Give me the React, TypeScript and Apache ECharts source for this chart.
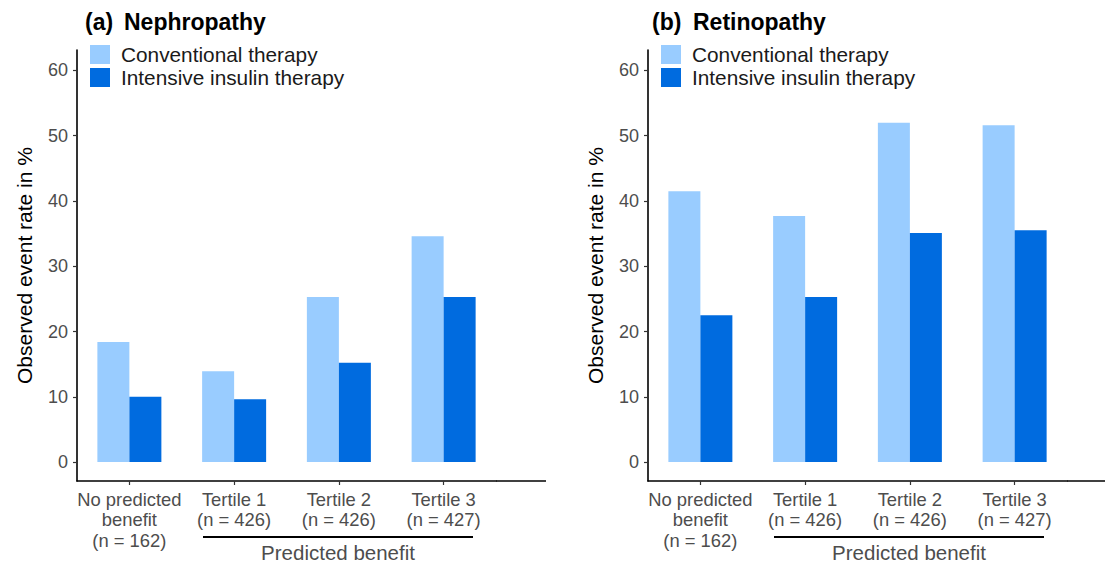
import React, { useEffect, useRef } from "react";
import * as echarts from "echarts";

const categories = [
  "No predicted\nbenefit\n(n = 162)",
  "Tertile 1\n(n = 426)",
  "Tertile 2\n(n = 426)",
  "Tertile 3\n(n = 427)",
];
const seriesNames = ["Conventional therapy", "Intensive insulin therapy"];
const nephConventional = [18.4, 13.9, 25.3, 34.6];
const nephIntensive = [10.0, 9.6, 15.2, 25.3];
const retConventional = [41.5, 37.7, 52.0, 51.6];
const retIntensive = [22.5, 25.3, 35.1, 35.5];
const yTicks = [0, 10, 20, 30, 40, 50, 60];
const panelTags = ["(a)", "(b)"];
const panelTitles = ["Nephropathy", "Retinopathy"];
const yAxisTitle = "Observed event rate in %";
const groupLabel = "Predicted benefit";

const LIGHT = "#99CCFF";
const DARK = "#006BDF";
const FONT = "Liberation Sans, Arial, sans-serif";

export default function App() {
  const ref = useRef<HTMLDivElement>(null);
  useEffect(() => {
    document.body.style.margin = "0";
    const chart = echarts.init(ref.current!, undefined, { renderer: "svg" });
    const offsets = [0, 571];
    const gridLeft = [77, 648];
    const gridW = 419;

    const grids = gridLeft.map((l) => ({ left: l, top: 50, width: gridW, height: 431 }));
    const xAxes = gridLeft.map((_, i) => ({
      type: "category",
      gridIndex: i,
      data: categories,
      boundaryGap: true,
      axisLine: { show: true, onZero: false, lineStyle: { color: "#000", width: 1.6 } },
      axisTick: { show: true, alignWithLabel: true, length: 4, lineStyle: { color: "#333", width: 1.2 } },
      axisLabel: {
        interval: 0,
        fontSize: 18.4,
        lineHeight: 20.5,
        color: "#4D4D4D",
        fontFamily: FONT,
        margin: 8,
      },
    }));
    const yAxes = gridLeft.map((_, i) => ({
      type: "value",
      gridIndex: i,
      min: -2.91,
      max: 63.14,
      name: yAxisTitle,
      nameLocation: "middle",
      nameRotate: 90,
      nameGap: 42,
      nameTextStyle: { fontSize: 21, color: "#000", fontFamily: FONT },
      splitLine: { show: false },
      axisLine: { show: true, onZero: false, lineStyle: { color: "#000", width: 1.6 } },
      axisTick: { show: true, customValues: yTicks, length: 4, lineStyle: { color: "#333", width: 1.2 } },
      axisLabel: { customValues: yTicks, fontSize: 18, color: "#4D4D4D", fontFamily: FONT, margin: 9 },
    }));

    const mk = (name: string, data: number[], idx: number, color: string) => ({
      type: "bar",
      name,
      xAxisIndex: idx,
      yAxisIndex: idx,
      data,
      barWidth: 32,
      barGap: "0%",
      itemStyle: { color },
    });
    const series = [
      mk(seriesNames[0], nephConventional, 0, LIGHT),
      mk(seriesNames[1], nephIntensive, 0, DARK),
      mk(seriesNames[0], retConventional, 1, LIGHT),
      mk(seriesNames[1], retIntensive, 1, DARK),
    ];

    const legends = offsets.map((o) => ({
      left: 90 + o,
      top: 44,
      orient: "vertical",
      icon: "rect",
      itemWidth: 20,
      itemHeight: 19,
      itemGap: 2,
      padding: 0,
      selectedMode: false,
      data: seriesNames,
      textStyle: { fontSize: 20.8, lineHeight: 19, color: "#1A1A1A", fontFamily: FONT, padding: [0, 0, 0, 6] },
    }));

    const graphics: any[] = [];
    const tagX = [85, 652];
    const titleX = [124, 693];
    offsets.forEach((o, i) => {
      graphics.push({
        type: "text",
        left: tagX[i],
        top: 10,
        style: { text: panelTags[i], fontSize: 23, fontWeight: "bold", fill: "#000", fontFamily: FONT },
      });
      graphics.push({
        type: "text",
        left: titleX[i],
        top: 10,
        style: { text: panelTitles[i], fontSize: 23, fontWeight: "bold", fill: "#000", fontFamily: FONT },
      });
      // axis line extension
      const x0 = gridLeft[i] + gridW;
      graphics.push({
        type: "line",
        shape: { x1: x0, y1: 481, x2: i === 0 ? 546 : 1105, y2: 481 },
        style: { stroke: "#000", lineWidth: 1.6 },
      });
      // group bracket
      graphics.push({
        type: "line",
        shape: { x1: 203 + o, y1: 537, x2: 473 + o, y2: 537 },
        style: { stroke: "#000", lineWidth: 2.2 },
      });
      graphics.push({
        type: "text",
        x: 338 + o,
        y: 552,
        style: {
          text: groupLabel,
          fontSize: 20.5,
          fill: "#4D4D4D",
          fontFamily: FONT,
          align: "center",
          verticalAlign: "middle",
        },
      });
    });

    chart.setOption({
      animation: false,
      backgroundColor: "#fff",
      grid: grids,
      xAxis: xAxes,
      yAxis: yAxes,
      legend: legends,
      series,
      graphic: graphics,
    });
    return () => chart.dispose();
  }, []);
  return <div ref={ref} style={{ width: 1105, height: 562 }} />;
}
